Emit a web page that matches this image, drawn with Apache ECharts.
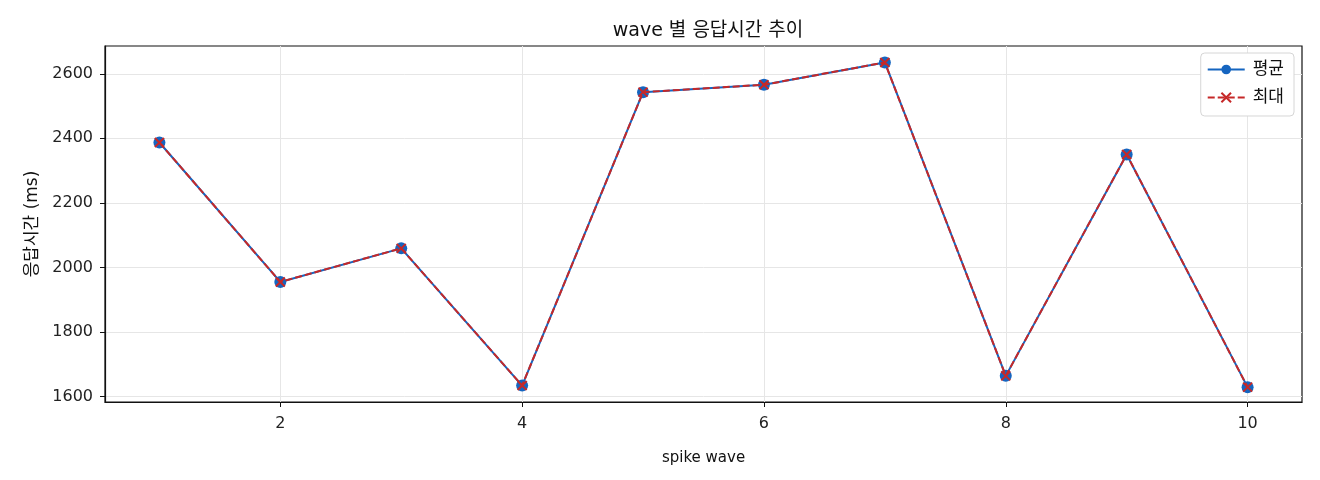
<!DOCTYPE html>
<html>
<head>
<meta charset="utf-8">
<script src="https://cdn.jsdelivr.net/npm/echarts@6/dist/echarts.min.js"></script>
<style>
html,body{margin:0;padding:0;background:#fff;}
#chart{width:1320px;height:480px;}
</style>
</head>
<body>
<div id="chart"></div>
<script>
const waves = [1, 2, 3, 4, 5, 6, 7, 8, 9, 10];
const avgValues = [2387, 1955, 2059, 1634, 2543, 2566, 2635, 1664, 2350, 1629];
const maxValues = [2387, 1955, 2059, 1634, 2543, 2566, 2635, 1664, 2350, 1629];
const xTicks = [2, 4, 6, 8, 10];
const yTicks = [1600, 1800, 2000, 2200, 2400, 2600];
const seriesNames = ['평균', '최대'];

const FONT = '"DejaVu Sans", "Noto Sans CJK KR", sans-serif';
const chart = echarts.init(document.getElementById('chart'), null, {renderer: 'canvas'});
const xMark = 'path://M0,0L10,10M10,0L0,10';

chart.setOption({
  animation: false,
  backgroundColor: '#fff',
  title: {
    text: 'wave 별 응답시간 추이',
    left: 703, textAlign: 'center', top: 17,
    textStyle: {fontFamily: FONT, fontSize: 19, fontWeight: 'normal', color: '#111'}
  },
  grid: {left: 105, right: 18, top: 46, bottom: 78, show: true, borderColor: '#111', borderWidth: 1.2, backgroundColor: 'transparent'},
  legend: {
    right: 26, top: 53, orient: 'vertical',
    itemWidth: 37, itemHeight: 12, itemGap: 11,
    padding: [8, 10, 10, 6],
    borderColor: '#d6d6d6', borderWidth: 1, borderRadius: 4, backgroundColor: '#fff',
    textStyle: {fontFamily: FONT, fontSize: 17, color: '#111', padding: [0, 0, 0, 3]},
    data: seriesNames
  },
  xAxis: {
    type: 'value', min: 0.55, max: 10.45,
    name: 'spike wave', nameLocation: 'middle', nameGap: 49,
    nameTextStyle: {fontFamily: FONT, fontSize: 15, color: '#111'},
    axisLine: {show: true, onZero: false, lineStyle: {color: '#111', width: 1.2}},
    axisTick: {show: true, length: 5, customValues: xTicks, lineStyle: {color: '#111'}},
    axisLabel: {customValues: xTicks, margin: 14, fontFamily: FONT, fontSize: 16, color: '#222'},
    splitLine: {show: true, customValues: xTicks, lineStyle: {color: '#e6e6e6', width: 1}}
  },
  yAxis: {
    type: 'value', min: 1583, max: 2686,
    name: '응답시간 (ms)', nameLocation: 'middle', nameGap: 62, nameRotate: 90,
    nameTextStyle: {fontFamily: FONT, fontSize: 17, color: '#111'},
    axisLine: {show: true, onZero: false, lineStyle: {color: '#111', width: 1.2}},
    axisTick: {show: true, length: 5, customValues: yTicks, lineStyle: {color: '#111'}},
    axisLabel: {customValues: yTicks, margin: 12, fontFamily: FONT, fontSize: 16, color: '#222',
      formatter: v => String(v)},
    splitLine: {show: true, customValues: yTicks, lineStyle: {color: '#e6e6e6', width: 1}}
  },
  series: [
    {
      name: seriesNames[0], type: 'line',
      data: waves.map((w, i) => [w, avgValues[i]]),
      symbol: 'circle', symbolSize: 12,
      lineStyle: {color: '#1565C0', width: 2},
      itemStyle: {color: '#1565C0'},
      z: 2
    },
    {
      name: seriesNames[1], type: 'line',
      data: waves.map((w, i) => [w, maxValues[i]]),
      symbol: xMark, symbolSize: 9,
      lineStyle: {color: '#C62828', width: 2, type: [7, 3]},
      itemStyle: {color: '#C62828', borderColor: '#C62828', borderWidth: 2},
      z: 3
    }
  ]
});
</script>
</body>
</html>
